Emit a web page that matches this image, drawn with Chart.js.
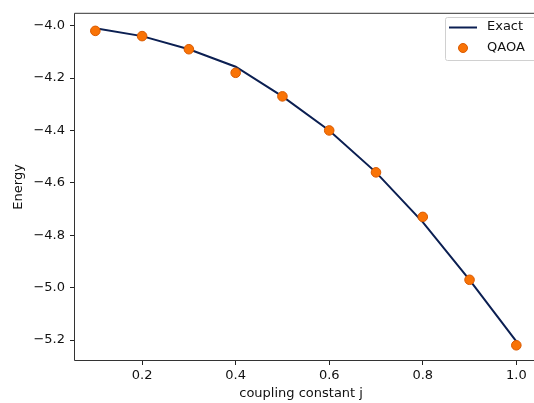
<!DOCTYPE html>
<html>
<head>
<meta charset="utf-8">
<script src="https://cdn.jsdelivr.net/npm/chart.js@4"></script>
<style>
html,body{margin:0;padding:0;background:#fff;overflow:hidden;}
#wrap{position:absolute;left:0;top:0;width:534px;height:403px;}
</style>
</head>
<body>
<div id="wrap"><canvas id="c" width="534" height="403"></canvas></div>
<script>
const couplings = [0.1, 0.2, 0.3, 0.4, 0.5, 0.6, 0.7, 0.8, 0.9, 1.0];
const exactEnergy = [-4.01, -4.04, -4.09, -4.157, -4.27, -4.40, -4.56, -4.75, -4.97, -5.205];
const qaoaEnergy = [-4.02, -4.04, -4.09, -4.18, -4.27, -4.40, -4.56, -4.73, -4.97, -5.22];
const xTickValues = [0.2, 0.4, 0.6, 0.8, 1.0];
const yTickValues = [-5.2, -5.0, -4.8, -4.6, -4.4, -4.2, -4.0];

const FONT = 'DejaVu Sans';
const FS = 13;
const fmt = v => (v < 0 ? '\u2212' : '') + Math.abs(v).toFixed(1);

const framePlugin = {
  id: 'frame',
  afterDraw(chart) {
    const {ctx, chartArea: a} = chart;
    ctx.save();
    ctx.strokeStyle = '#333';
    ctx.lineWidth = 1;
    ctx.beginPath();
    ctx.moveTo(chart.width, a.top + 0.5);
    ctx.lineTo(a.left + 0.5, a.top + 0.5);
    ctx.lineTo(a.left + 0.5, a.bottom - 0.5);
    ctx.lineTo(chart.width, a.bottom - 0.5);
    ctx.stroke();
    // legend
    const lx = 445.5, ly = 17.5, lw = 100, lh = 43;
    ctx.fillStyle = 'rgba(255,255,255,0.85)';
    ctx.strokeStyle = '#d0d0d0';
    ctx.beginPath();
    ctx.roundRect(lx, ly, lw, lh, 2);
    ctx.fill(); ctx.stroke();
    const ds = chart.data.datasets;
    ctx.strokeStyle = ds[0].borderColor;
    ctx.lineWidth = ds[0].borderWidth;
    ctx.beginPath(); ctx.moveTo(449, 27.5); ctx.lineTo(477, 27.5); ctx.stroke();
    ctx.fillStyle = ds[1].pointBackgroundColor;
    ctx.strokeStyle = ds[1].pointBorderColor;
    ctx.lineWidth = 1;
    ctx.beginPath(); ctx.arc(463, 48, 4.5, 0, Math.PI * 2); ctx.fill(); ctx.stroke();
    ctx.fillStyle = '#111';
    ctx.font = FS + 'px "' + FONT + '"';
    ctx.textBaseline = 'middle';
    ctx.textAlign = 'left';
    ctx.fillText(ds[0].label, 487, 27);
    ctx.fillText(ds[1].label, 487, 48);
    ctx.restore();
  }
};

new Chart(document.getElementById('c'), {
  type: 'scatter',
  data: {
    datasets: [
      {
        label: 'Exact',
        data: couplings.map((x, i) => ({x, y: exactEnergy[i]})),
        showLine: true,
        borderColor: '#0b1f52',
        backgroundColor: '#0b1f52',
        borderWidth: 2,
        pointRadius: 0,
        tension: 0,
        order: 2
      },
      {
        label: 'QAOA',
        data: couplings.map((x, i) => ({x, y: qaoaEnergy[i]})),
        showLine: false,
        pointRadius: 4.8,
        pointBackgroundColor: '#f97306',
        pointBorderColor: '#d95a00',
        pointBorderWidth: 1,
        order: 1
      }
    ]
  },
  options: {
    responsive: false,
    animation: false,
    devicePixelRatio: 1,
    layout: {padding: {left: 0, right: 0, top: 11, bottom: 0}},
    plugins: {legend: {display: false}, tooltip: {enabled: false}},
    scales: {
      x: {
        type: 'linear',
        min: 0.0544, max: 1.0254,
        afterBuildTicks: s => { s.ticks = xTickValues.map(v => ({value: v})); },
        afterFit: s => { s.height = 42; s.paddingRight = 0; },
        border: {display: false},
        grid: {drawOnChartArea: false, drawTicks: true, tickLength: 4, color: '#222', tickWidth: 1},
        ticks: {color: '#111', font: {family: FONT, size: FS}, padding: 3, maxRotation: 0, autoSkip: false,
                callback: v => v.toFixed(1)},
        title: {display: true, text: 'coupling constant j', color: '#111', font: {family: FONT, size: FS}, padding: {top: 0, bottom: 2}}
      },
      y: {
        type: 'linear',
        min: -5.28, max: -3.951,
        afterBuildTicks: s => { s.ticks = yTickValues.map(v => ({value: v})); },
        afterFit: s => { s.width = 74; },
        border: {display: false},
        grid: {drawOnChartArea: false, drawTicks: true, tickLength: 4, color: '#222', tickWidth: 1},
        ticks: {color: '#111', font: {family: FONT, size: FS}, padding: 5, autoSkip: false,
                callback: v => fmt(v)},
        title: {display: true, text: 'Energy', color: '#111', font: {family: FONT, size: FS}, padding: {top: 11, bottom: 0}}
      }
    }
  },
  plugins: [framePlugin]
});
</script>
</body>
</html>
